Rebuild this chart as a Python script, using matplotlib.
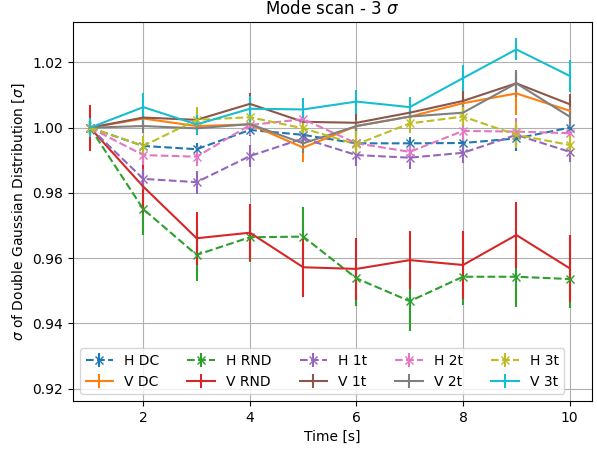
import numpy as np
import matplotlib
matplotlib.use("Agg")
import matplotlib.pyplot as plt

time_s = [1, 2, 3, 4, 5, 6, 7, 8, 9, 10]

h_dc = [1.0, 0.9944, 0.9934, 0.9993, 0.9978, 0.9952, 0.9952, 0.9953, 0.9967, 1.0000]
h_dc_err = [0.002, 0.002, 0.002, 0.002, 0.002, 0.002, 0.002, 0.002, 0.004, 0.002]
v_dc = [1.0, 1.0028, 1.0005, 1.0010, 0.9939, 1.0005, 1.0034, 1.0075, 1.0105, 1.0052]
v_dc_err = [0.002, 0.002, 0.002, 0.002, 0.0045, 0.002, 0.002, 0.003, 0.0065, 0.003]
h_rnd = [1.0, 0.9750, 0.9610, 0.9664, 0.9666, 0.9538, 0.9468, 0.9543, 0.9543, 0.9536]
h_rnd_err = [0.002, 0.0079, 0.0079, 0.0077, 0.0092, 0.0085, 0.009, 0.0087, 0.0094, 0.009]
v_rnd = [1.0, 0.9819, 0.9661, 0.9678, 0.9572, 0.9567, 0.9594, 0.9579, 0.9671, 0.9569]
v_rnd_err = [0.007, 0.008, 0.0082, 0.0088, 0.009, 0.0094, 0.009, 0.0104, 0.0102, 0.0102]
h_1t = [1.0, 0.9843, 0.9833, 0.9913, 0.9967, 0.9916, 0.9908, 0.9923, 0.9978, 0.9926]
h_1t_err = [0.002, 0.003, 0.0035, 0.0035, 0.003, 0.0035, 0.0035, 0.003, 0.003, 0.003]
v_1t = [1.0, 1.0031, 1.0024, 1.0073, 1.0018, 1.0015, 1.0046, 1.0082, 1.0136, 1.0072]
v_1t_err = [0.002, 0.003, 0.003, 0.0033, 0.003, 0.004, 0.003, 0.0035, 0.003, 0.003]
h_2t = [1.0, 0.9916, 0.9911, 1.0008, 1.0026, 0.9952, 0.9926, 0.9990, 0.9988, 0.9983]
h_2t_err = [0.002, 0.003, 0.003, 0.003, 0.003, 0.003, 0.003, 0.003, 0.0042, 0.003]
v_2t = [1.0, 1.0005, 0.9998, 1.0011, 0.9952, 1.0005, 1.0034, 1.0046, 1.0136, 1.0034]
v_2t_err = [0.002, 0.002, 0.002, 0.002, 0.003, 0.002, 0.002, 0.003, 0.0041, 0.003]
h_3t = [1.0, 0.9944, 1.0024, 1.0032, 0.9998, 0.9949, 1.0013, 1.0034, 0.9978, 0.9947]
h_3t_err = [0.002, 0.003, 0.004, 0.003, 0.003, 0.004, 0.003, 0.003, 0.004, 0.003]
v_3t = [1.0, 1.0063, 1.0010, 1.0058, 1.0056, 1.0080, 1.0063, 1.0152, 1.0240, 1.0159]
v_3t_err = [0.003, 0.0042, 0.003, 0.004, 0.0034, 0.0037, 0.003, 0.004, 0.0034, 0.005]

series = [
    ("H DC", h_dc, h_dc_err), ("V DC", v_dc, v_dc_err),
    ("H RND", h_rnd, h_rnd_err), ("V RND", v_rnd, v_rnd_err),
    ("H 1t", h_1t, h_1t_err), ("V 1t", v_1t, v_1t_err),
    ("H 2t", h_2t, h_2t_err), ("V 2t", v_2t, v_2t_err),
    ("H 3t", h_3t, h_3t_err), ("V 3t", v_3t, v_3t_err),
]

fig = plt.figure(figsize=(5.97, 4.49), dpi=100)
ax = fig.add_axes([0.1223, 0.1069, 0.8693, 0.8441])

for label, vals, err in series:
    if label.startswith("H"):
        ax.errorbar(time_s, vals, yerr=err, marker="x", linestyle="--", label=label)
    else:
        ax.errorbar(time_s, vals, yerr=err, linestyle="-", label=label)

ax.set_xlim(0.68, 10.42)
ax.set_ylim(0.9162, 1.0324)
ax.set_xticks([2, 4, 6, 8, 10])
ax.set_yticks([0.92, 0.94, 0.96, 0.98, 1.00, 1.02])
ax.grid(True)
ax.set_title(r"Mode scan - 3 $\sigma$")
ax.set_xlabel("Time [s]")
ax.set_ylabel(r"$\sigma$ of Double Gaussian Distribution [$\sigma$]")
ax.legend(ncol=5, loc="lower left")

fig.savefig("out.png", dpi=100)
